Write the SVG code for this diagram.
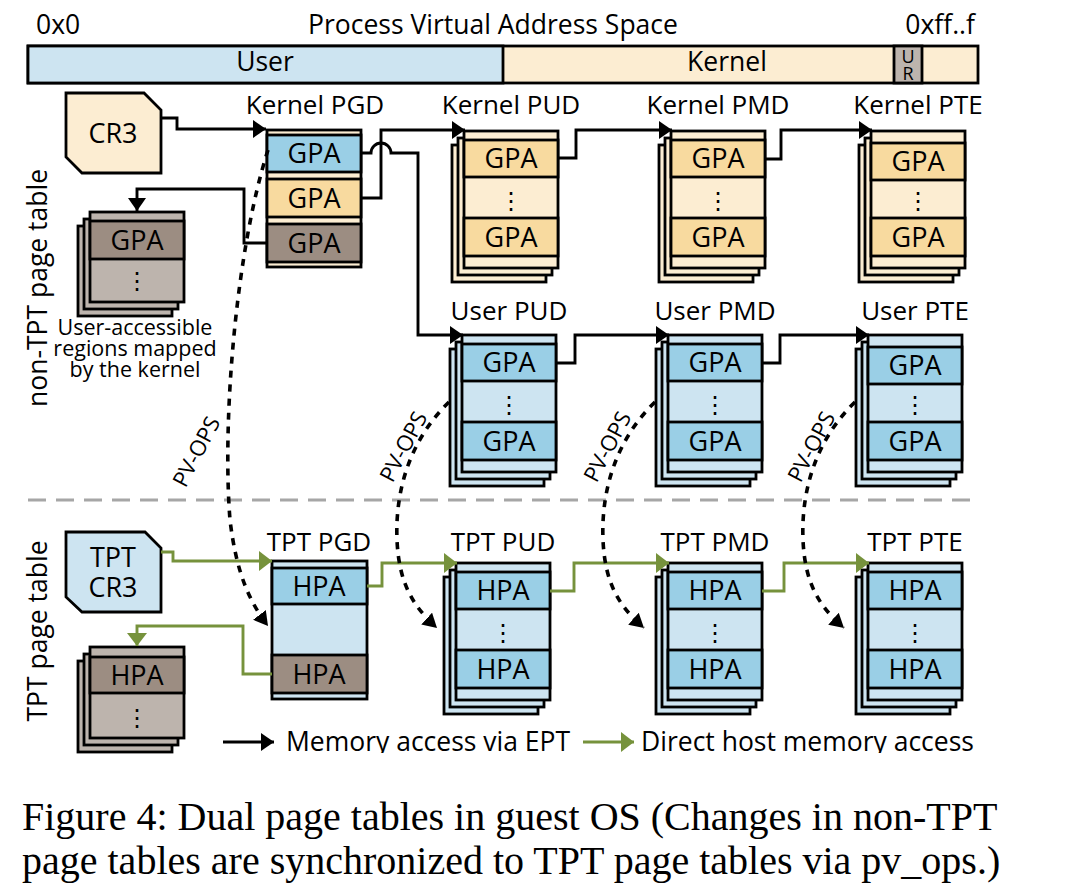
<svg xmlns="http://www.w3.org/2000/svg" width="1076" height="894" viewBox="0 0 1076 894">
<style>
text{font-family:"Open Sans","Liberation Sans",sans-serif;fill:#000}
.t26{font-size:26.5px}
.lbl{font-size:26px;text-anchor:middle}
.cell{font-size:27px;text-anchor:middle}
.dots{font-family:"DejaVu Sans",sans-serif;font-size:24px;text-anchor:middle}
.pv{font-size:22px;text-anchor:middle}
.ua{font-size:21.5px;text-anchor:middle}
.bx{stroke:#000;stroke-width:2.8}
.lb{fill:#CDE4F1}.bb{fill:#9ACFE6}.cr{fill:#FCEDD2}.or{fill:#F8DA9F}.br{fill:#9C8D82}.lg{fill:#BDB4AD}
.k{fill:none;stroke:#000;stroke-width:2.9}
.g{fill:none;stroke:#76923C;stroke-width:2.9}
.pvl{fill:none;stroke:#000;stroke-width:3.6;stroke-dasharray:7 7}
.cap{font-family:"Liberation Serif","Times New Roman",serif;font-size:40px}
</style>
<defs>
<marker id="ak" markerUnits="userSpaceOnUse" markerWidth="15" markerHeight="19" refX="13" refY="9" orient="auto"><path d="M0,0 L13,9 L0,18 z" fill="#000"/></marker>
<marker id="ag" markerUnits="userSpaceOnUse" markerWidth="15" markerHeight="21" refX="13" refY="10" orient="auto"><path d="M0,0 L13,10 L0,20 z" fill="#76923C"/></marker>
<marker id="ap" markerUnits="userSpaceOnUse" markerWidth="18" markerHeight="18" refX="14" refY="8" orient="auto"><path d="M0,0 L14,8 L0,16 z" fill="#000"/></marker>
<clipPath id="lgclip"><rect x="0" y="0" width="1076" height="753"/></clipPath>
</defs>

<!-- address space bar -->
<g id="addr-space">
<text x="36" y="34" class="t26">0x0</text>
<text x="493" y="34" class="t26" text-anchor="middle">Process Virtual Address Space</text>
<text x="975" y="34" class="t26" text-anchor="end">0xff..f</text>
<rect x="28" y="46" width="950" height="37" class="cr bx"/>
<rect x="28" y="46" width="475" height="37" class="lb bx"/>
<rect x="894" y="46" width="28" height="37" class="lg bx"/>
<text x="265" y="71" class="t26" text-anchor="middle">User</text>
<text x="727" y="71" class="t26" text-anchor="middle">Kernel</text>
<text x="908" y="63" font-size="18" text-anchor="middle">U</text>
<text x="908" y="80" font-size="18" text-anchor="middle">R</text>
</g>

<!-- side labels -->
<text transform="translate(47,288) rotate(-90)" class="t26" text-anchor="middle">non-TPT page table</text>
<text transform="translate(47,631) rotate(-90)" class="t26" text-anchor="middle">TPT page table</text>

<!-- separator -->
<line x1="28" y1="500" x2="978" y2="500" stroke="#A6A6A6" stroke-width="3" stroke-dasharray="18 10"/>

<!-- CR3 -->
<g id="cr3">
<path d="M66,93 H144 L161,110 V173 H82 L66,157 Z" class="cr bx"/>
<text x="113" y="143" class="cell">CR3</text>
</g>

<!-- Kernel PGD -->
<g id="kernel-pgd">
<text x="315" y="114" class="lbl">Kernel PGD</text>
<rect x="267" y="130" width="94" height="137" class="cr bx"/>
<rect x="267" y="135" width="94" height="37" class="bb bx"/>
<rect x="267" y="179" width="94" height="38" class="or bx"/>
<rect x="267" y="224" width="94" height="38" class="br bx"/>
<text x="314" y="163" class="cell">GPA</text>
<text x="314" y="208" class="cell">GPA</text>
<text x="314" y="253" class="cell">GPA</text>
</g>

<!-- User-accessible gray stack -->
<g id="kernel-user-regions">
<rect x="78" y="226" width="94" height="90" class="lg bx"/>
<rect x="84" y="219" width="94" height="90" class="lg bx"/>
<rect x="90" y="212" width="94" height="90" class="lg bx"/>
<rect x="90" y="221" width="94" height="38" class="br bx"/>
<text x="137" y="250" class="cell">GPA</text>
<text x="137" y="289" class="dots">⋮</text>
<text x="135" y="335" class="ua">User-accessible</text>
<text x="135" y="356" class="ua">regions mapped</text>
<text x="135" y="377" class="ua">by the kernel</text>
</g>

<!-- Kernel PUD -->
<g id="kernel-pud">
<text x="511" y="114" class="lbl">Kernel PUD</text>
<rect x="452" y="145" width="94" height="137" class="cr bx"/>
<rect x="458" y="138" width="94" height="137" class="cr bx"/>
<rect x="464" y="131" width="94" height="137" class="cr bx"/>
<rect x="464" y="140" width="94" height="37" class="or bx"/>
<rect x="464" y="218" width="94" height="38" class="or bx"/>
<text x="511" y="168" class="cell">GPA</text>
<text x="511" y="209" class="dots">⋮</text>
<text x="511" y="247" class="cell">GPA</text>
</g>

<!-- Kernel PMD -->
<g id="kernel-pmd">
<text x="718" y="114" class="lbl">Kernel PMD</text>
<rect x="659" y="145" width="94" height="137" class="cr bx"/>
<rect x="665" y="138" width="94" height="137" class="cr bx"/>
<rect x="671" y="131" width="94" height="137" class="cr bx"/>
<rect x="671" y="140" width="94" height="37" class="or bx"/>
<rect x="671" y="218" width="94" height="38" class="or bx"/>
<text x="718" y="168" class="cell">GPA</text>
<text x="718" y="209" class="dots">⋮</text>
<text x="718" y="247" class="cell">GPA</text>
</g>

<!-- Kernel PTE -->
<g id="kernel-pte">
<text x="918" y="114" class="lbl">Kernel PTE</text>
<rect x="859" y="145" width="94" height="137" class="cr bx"/>
<rect x="865" y="138" width="94" height="137" class="cr bx"/>
<rect x="871" y="131" width="94" height="137" class="cr bx"/>
<rect x="871" y="143" width="94" height="37" class="or bx"/>
<rect x="871" y="218" width="94" height="38" class="or bx"/>
<text x="918" y="171" class="cell">GPA</text>
<text x="918" y="209" class="dots">⋮</text>
<text x="918" y="247" class="cell">GPA</text>
</g>

<!-- User PUD -->
<g id="user-pud">
<text x="509" y="320" class="lbl">User PUD</text>
<rect x="450" y="349" width="94" height="137" class="lb bx"/>
<rect x="456" y="342" width="94" height="137" class="lb bx"/>
<rect x="462" y="335" width="94" height="137" class="lb bx"/>
<rect x="462" y="344" width="94" height="37" class="bb bx"/>
<rect x="462" y="422" width="94" height="38" class="bb bx"/>
<text x="509" y="372" class="cell">GPA</text>
<text x="509" y="413" class="dots">⋮</text>
<text x="509" y="451" class="cell">GPA</text>
</g>

<!-- User PMD -->
<g id="user-pmd">
<text x="715" y="320" class="lbl">User PMD</text>
<rect x="656" y="349" width="94" height="137" class="lb bx"/>
<rect x="662" y="342" width="94" height="137" class="lb bx"/>
<rect x="668" y="335" width="94" height="137" class="lb bx"/>
<rect x="668" y="344" width="94" height="37" class="bb bx"/>
<rect x="668" y="422" width="94" height="38" class="bb bx"/>
<text x="715" y="372" class="cell">GPA</text>
<text x="715" y="413" class="dots">⋮</text>
<text x="715" y="451" class="cell">GPA</text>
</g>

<!-- User PTE -->
<g id="user-pte">
<text x="915" y="320" class="lbl">User PTE</text>
<rect x="856" y="349" width="94" height="137" class="lb bx"/>
<rect x="862" y="342" width="94" height="137" class="lb bx"/>
<rect x="868" y="335" width="94" height="137" class="lb bx"/>
<rect x="868" y="347" width="94" height="37" class="bb bx"/>
<rect x="868" y="422" width="94" height="38" class="bb bx"/>
<text x="915" y="375" class="cell">GPA</text>
<text x="915" y="413" class="dots">⋮</text>
<text x="915" y="451" class="cell">GPA</text>
</g>

<!-- TPT CR3 -->
<g id="tpt-cr3">
<path d="M66,532 H145 L161,548 V612 H82 L66,597 Z" class="lb bx"/>
<text x="113" y="567" class="cell">TPT</text>
<text x="113" y="597" class="cell">CR3</text>
</g>

<!-- TPT PGD -->
<g id="tpt-pgd">
<text x="319" y="551" class="lbl">TPT PGD</text>
<rect x="272" y="561" width="95" height="138" class="lb bx"/>
<rect x="272" y="568" width="95" height="36" class="bb bx"/>
<rect x="272" y="655" width="95" height="38" class="br bx"/>
<text x="319" y="596" class="cell">HPA</text>
<text x="319" y="684" class="cell">HPA</text>
</g>

<!-- TPT gray stack -->
<g id="tpt-user-regions">
<rect x="78" y="661" width="94" height="91" class="lg bx"/>
<rect x="84" y="654" width="94" height="91" class="lg bx"/>
<rect x="90" y="647" width="94" height="91" class="lg bx"/>
<rect x="90" y="657" width="94" height="36" class="br bx"/>
<text x="137" y="685" class="cell">HPA</text>
<text x="137" y="726" class="dots">⋮</text>
</g>

<!-- TPT PUD -->
<g id="tpt-pud">
<text x="503" y="551" class="lbl">TPT PUD</text>
<rect x="444" y="577" width="94" height="137" class="lb bx"/>
<rect x="450" y="570" width="94" height="137" class="lb bx"/>
<rect x="456" y="563" width="94" height="137" class="lb bx"/>
<rect x="456" y="572" width="94" height="37" class="bb bx"/>
<rect x="456" y="650" width="94" height="38" class="bb bx"/>
<text x="503" y="600" class="cell">HPA</text>
<text x="503" y="641" class="dots">⋮</text>
<text x="503" y="679" class="cell">HPA</text>
</g>

<!-- TPT PMD -->
<g id="tpt-pmd">
<text x="715" y="551" class="lbl">TPT PMD</text>
<rect x="656" y="577" width="94" height="137" class="lb bx"/>
<rect x="662" y="570" width="94" height="137" class="lb bx"/>
<rect x="668" y="563" width="94" height="137" class="lb bx"/>
<rect x="668" y="572" width="94" height="37" class="bb bx"/>
<rect x="668" y="650" width="94" height="38" class="bb bx"/>
<text x="715" y="600" class="cell">HPA</text>
<text x="715" y="641" class="dots">⋮</text>
<text x="715" y="679" class="cell">HPA</text>
</g>

<!-- TPT PTE -->
<g id="tpt-pte">
<text x="915" y="551" class="lbl">TPT PTE</text>
<rect x="856" y="577" width="94" height="137" class="lb bx"/>
<rect x="862" y="570" width="94" height="137" class="lb bx"/>
<rect x="868" y="563" width="94" height="137" class="lb bx"/>
<rect x="868" y="572" width="94" height="37" class="bb bx"/>
<rect x="868" y="650" width="94" height="38" class="bb bx"/>
<text x="915" y="600" class="cell">HPA</text>
<text x="915" y="641" class="dots">⋮</text>
<text x="915" y="679" class="cell">HPA</text>
</g>

<!-- connectors -->
<g id="connectors">
<path d="M161,118 H177 V129 H266" class="k" marker-end="url(#ak)"/>
<path d="M361,198 H381 V130 H465" class="k" marker-end="url(#ak)"/>
<path d="M361,153 H371 A10,10 0 0 1 391,153 H418 V335 H463" class="k" marker-end="url(#ak)"/>
<path d="M267,243 H244 V189 H137 V211" class="k" marker-end="url(#ak)"/>
<path d="M558,158 H576 V130 H672" class="k" marker-end="url(#ak)"/>
<path d="M765,159 H781 V130 H872" class="k" marker-end="url(#ak)"/>
<path d="M556,363 H575 V335 H669" class="k" marker-end="url(#ak)"/>
<path d="M762,363 H780 V335 H869" class="k" marker-end="url(#ak)"/>

<path d="M161,552 H173 V561 H272" class="g" marker-end="url(#ag)"/>
<path d="M367,586 H382 V563 H457" class="g" marker-end="url(#ag)"/>
<path d="M272,674 H243 V626 H137 V646" class="g" marker-end="url(#ag)"/>
<path d="M550,591 H574 V563 H669" class="g" marker-end="url(#ag)"/>
<path d="M762,591 H784 V563 H869" class="g" marker-end="url(#ag)"/>

<path d="M268,150 C236,250 222,420 230,520 C236,570 248,600 268,626" class="pvl" marker-end="url(#ap)"/>
<path d="M449,402 C410,440 395,490 397,540 C399,585 414,607 437,628" class="pvl" marker-end="url(#ap)"/>
<path d="M655,402 C616,440 601,490 603,540 C605,585 620,607 644,628" class="pvl" marker-end="url(#ap)"/>
<path d="M855,402 C816,440 801,490 803,540 C805,585 820,607 844,628" class="pvl" marker-end="url(#ap)"/>

<text transform="translate(197,452) rotate(-62)" class="pv" dy="7">PV-OPS</text>
<text transform="translate(404,447) rotate(-62)" class="pv" dy="7">PV-OPS</text>
<text transform="translate(608,447) rotate(-62)" class="pv" dy="7">PV-OPS</text>
<text transform="translate(812,447) rotate(-62)" class="pv" dy="7">PV-OPS</text>
</g>

<!-- legend -->
<g id="legend" clip-path="url(#lgclip)">
<path d="M223,742 H274" class="k" marker-end="url(#ak)"/>
<text x="286" y="751" class="t26">Memory access via EPT</text>
<path d="M583,742 H634" class="g" marker-end="url(#ag)"/>
<text x="641" y="751" class="t26">Direct host memory access</text>
</g>

<!-- caption -->
<text x="22" y="830" class="cap">Figure 4: Dual page tables in guest OS (Changes in non-TPT</text>
<text x="22" y="874" class="cap">page tables are synchronized to TPT page tables via pv_ops.)</text>
</svg>
